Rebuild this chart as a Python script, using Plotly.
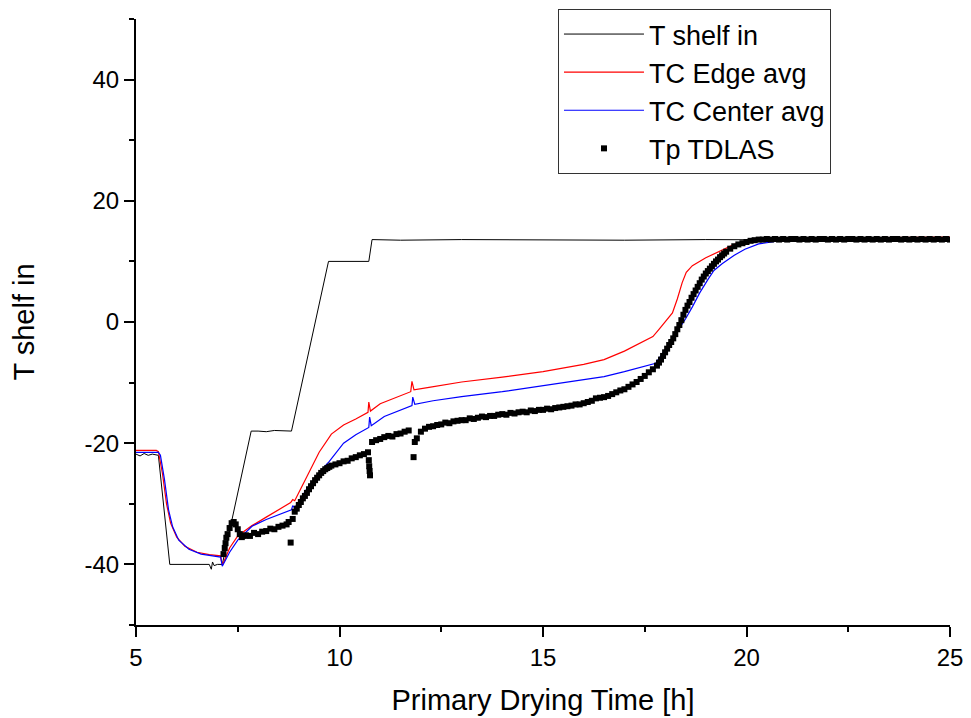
import plotly.graph_objects as go

# ---------------- data ----------------
shelf_x = [5.0, 5.1, 5.2, 5.3, 5.4, 5.5, 5.55, 5.83, 6.0, 6.3, 6.6, 6.8, 6.85, 6.88, 6.92, 7.0, 7.12,
           7.83, 8.0, 8.2, 8.4, 8.6, 8.82, 9.73, 9.9, 10.2, 10.5, 10.72, 10.8, 11.5, 13.0, 15.0, 17.0,
           19.0, 21.0, 23.0, 25.0]
shelf_y = [-21.8, -22.1, -21.7, -22.0, -21.8, -21.9, -22.0, -40.0, -40.0, -40.0, -40.0, -40.0, -40.8,
           -39.6, -40.2, -40.0, -40.0, -18.0, -18.0, -18.1, -17.9, -18.0, -18.0, 10.0, 10.0, 10.1, 10.0,
           10.0, 13.6, 13.5, 13.6, 13.5, 13.5, 13.6, 13.5, 13.5, 13.5]

edge_x = [5.0, 5.5, 5.55, 5.65, 5.75, 5.85, 6.0, 6.2, 6.5, 6.8, 7.08, 7.1, 7.13, 7.3, 7.5, 7.85, 8.2,
          8.5, 8.8, 8.85, 8.9, 9.2, 9.5, 9.8, 10.1, 10.4, 10.7, 10.72, 10.76, 11.0, 11.4, 11.75, 11.78,
          11.83, 12.2, 13.0, 14.0, 15.0, 16.0, 16.5, 17.0, 17.4, 17.7, 17.85, 18.0, 18.18, 18.3, 18.42,
          18.52, 18.67, 19.0, 19.4, 19.7, 19.9, 20.2, 21.0, 23.0, 25.0]
edge_y = [-21.2, -21.2, -21.4, -25.0, -30.0, -33.2, -35.5, -37.0, -38.0, -38.4, -38.6, -39.5, -40.0,
          -37.3, -35.3, -33.6, -32.2, -31.0, -29.8, -29.3, -29.5, -25.5, -21.5, -18.5, -17.0, -16.0,
          -14.9, -13.2, -14.7, -13.5, -12.4, -11.5, -9.8, -11.2, -10.8, -9.9, -9.1, -8.2, -7.0, -6.2,
          -4.8, -3.5, -2.4, -1.2, 0.0, 1.5, 3.8, 6.5, 8.2, 9.3, 10.6, 11.9, 12.8, 13.2, 13.6, 13.8,
          13.9, 14.0]

center_x = [5.0, 5.55, 5.6, 5.7, 5.8, 5.9, 6.05, 6.3, 6.6, 7.08, 7.12, 7.3, 7.5, 7.85, 8.2, 8.5, 8.82,
            8.85, 8.9, 9.2, 9.5, 9.75, 10.1, 10.4, 10.72, 10.74, 10.78, 11.1, 11.5, 11.78, 11.8, 11.85,
            12.3, 13.0, 14.0, 15.0, 16.0, 16.5, 17.0, 17.5, 17.77, 18.05, 18.3, 18.5, 18.67, 18.85,
            19.05, 19.2, 19.4, 19.7, 19.96, 20.3, 20.7, 21.2, 22.0, 25.0]
center_y = [-21.5, -21.5, -22.0, -26.0, -31.0, -33.8, -36.0, -37.5, -38.3, -38.8, -40.3, -38.0, -36.0,
            -33.7, -32.6, -31.8, -31.0, -30.3, -30.7, -27.5, -24.8, -23.0, -20.0, -18.6, -17.4, -15.7,
            -17.1, -15.6, -14.5, -13.8, -12.4, -13.6, -13.0, -12.3, -11.5, -10.5, -9.6, -9.0, -8.2,
            -7.3, -6.8, -4.1, -1.5, 0.5, 2.5, 4.8, 7.0, 8.5, 9.6, 11.0, 12.0, 12.9, 13.3, 13.6, 13.7,
            13.8]

tdlas_x = [7.15, 7.18, 7.2, 7.22, 7.25, 7.3, 7.35, 7.4, 7.45, 7.5, 7.55, 7.6, 7.65, 7.7, 7.8, 7.9,
           8.0, 8.1, 8.2, 8.3, 8.4, 8.5, 8.6, 8.7, 8.75, 8.8,
           8.85, 8.9, 8.95, 9.0, 9.05, 9.1, 9.15, 9.2, 9.25, 9.3, 9.35, 9.4, 9.45, 9.5, 9.55, 9.6, 9.65,
           9.7, 9.75, 9.8, 9.9, 10.0, 10.1, 10.2, 10.3, 10.4, 10.5, 10.6, 10.7, 10.72, 10.73, 10.74,
           10.75, 10.8, 10.9, 11.0, 11.1, 11.2, 11.3, 11.4, 11.5, 11.6, 11.7, 11.82, 11.85, 11.9, 12.0,
           12.1, 12.2, 12.3, 12.4, 12.5, 12.6, 12.7, 12.8, 12.9, 13.0, 13.1, 13.2, 13.3, 13.4, 13.5,
           13.6, 13.7, 13.8, 13.9, 14.0, 14.1, 14.2, 14.3, 14.4, 14.5, 14.6, 14.7, 14.8, 14.9, 15.0,
           15.1, 15.2, 15.3, 15.4, 15.5, 15.6, 15.7, 15.8, 15.9, 16.0, 16.1, 16.2, 16.3, 16.4, 16.5,
           16.6, 16.7, 16.8, 16.9, 17.0, 17.1, 17.2, 17.3, 17.4, 17.5, 17.6, 17.7,
           17.8, 17.85, 17.9, 17.95, 18.0, 18.05, 18.1, 18.15, 18.2, 18.25, 18.3, 18.35, 18.4, 18.45,
           18.5, 18.55, 18.6, 18.65, 18.7, 18.75, 18.8, 18.85, 18.9, 18.95, 19.0, 19.05, 19.1, 19.15,
           19.2, 19.25, 19.3, 19.35, 19.4, 19.45, 19.5, 19.6, 19.7, 19.8, 19.9, 20.0, 20.1, 20.2, 20.3,
           20.4, 20.5, 20.6, 20.7, 20.8, 20.9, 21.0, 21.1, 21.2, 21.3, 21.4, 21.5, 21.6, 21.7, 21.8,
           21.9, 22.0, 22.1, 22.2, 22.3, 22.4, 22.5, 22.6, 22.7, 22.8, 22.9, 23.0, 23.1, 23.2, 23.3,
           23.4, 23.5, 23.6, 23.7, 23.8, 23.9, 24.0, 24.1, 24.2, 24.3, 24.4, 24.5, 24.6, 24.7, 24.8,
           24.9, 25.0]
tdlas_y = [-38.3, -37.3, -36.5, -35.6, -35.0, -34.0, -33.2, -33.0, -33.4, -34.2, -35.0, -35.5, -35.3,
           -35.2, -35.3, -34.8, -35.0, -34.6, -34.5, -34.1, -34.2, -33.8, -33.6, -33.4, -33.0, -36.4,
           -32.5, -31.3, -30.8, -30.2, -29.7, -29.1, -28.7, -28.2, -27.6, -27.1, -26.6, -26.1, -25.7,
           -25.3, -24.9, -24.6, -24.3, -24.1, -23.9, -23.7, -23.5, -23.3, -23.0, -22.9, -22.5, -22.3,
           -22.0, -21.8, -21.5, -22.8, -23.8, -24.6, -25.3, -19.8, -19.5, -19.3, -19.0, -18.8, -18.9,
           -18.5, -18.4, -18.1, -17.9, -22.3, -19.8, -19.2, -18.1, -17.6, -17.3, -17.2, -17.0, -16.9,
           -16.6, -16.7, -16.4, -16.3, -16.2, -16.2, -15.9, -16.0, -15.8, -15.6, -15.7, -15.5, -15.5,
           -15.3, -15.2, -15.3, -15.0, -15.1, -14.9, -14.8, -14.9, -14.6, -14.7, -14.5, -14.5, -14.3,
           -14.4, -14.2, -14.1, -14.0, -13.9, -13.8, -13.6, -13.6, -13.4, -13.2, -13.0, -12.6, -12.5,
           -12.4, -12.2, -11.9, -11.6, -11.3, -11.1, -10.7, -10.3, -9.9, -9.4, -8.9, -8.3, -7.8,
           -7.2, -6.7, -6.2, -5.6, -5.0, -4.4, -3.8, -3.3, -2.7, -2.0, -1.2, -0.5, 0.3, 1.2,
           2.0, 2.7, 3.3, 4.0, 4.6, 5.2, 5.8, 6.4, 7.0, 7.5, 8.0, 8.4, 8.8, 9.2,
           9.6, 10.0, 10.3, 10.7, 11.0, 11.3, 11.6, 12.1, 12.5, 12.8, 13.0, 13.2, 13.4, 13.5, 13.6,
           13.6, 13.7, 13.6, 13.7, 13.6, 13.7, 13.6, 13.7, 13.7, 13.6, 13.7, 13.6, 13.7, 13.6, 13.7,
           13.7, 13.6, 13.7, 13.6, 13.7, 13.6, 13.7, 13.7, 13.6, 13.7, 13.6, 13.7, 13.6, 13.7, 13.6,
           13.7, 13.6, 13.7, 13.7, 13.6, 13.7, 13.6, 13.7, 13.6, 13.7, 13.6, 13.7, 13.6, 13.7, 13.6,
           13.7, 13.6]

x_ticks = [5, 10, 15, 20, 25]
x_ticktext = ["5", "10", "15", "20", "25"]
y_ticks = [-40, -20, 0, 20, 40]
y_ticktext = ["-40", "-20", "0", "20", "40"]

FONT = "Liberation Sans, Arial, sans-serif"

fig = go.Figure()
fig.add_trace(go.Scatter(x=shelf_x, y=shelf_y, mode="lines", name="T shelf in",
                         line=dict(color="black", width=1)))
fig.add_trace(go.Scatter(x=edge_x, y=edge_y, mode="lines", name="TC Edge avg",
                         line=dict(color="#ff0000", width=1.2)))
fig.add_trace(go.Scatter(x=center_x, y=center_y, mode="lines", name="TC Center avg",
                         line=dict(color="#0000ff", width=1.2)))
fig.add_trace(go.Scatter(x=tdlas_x, y=tdlas_y, mode="markers", name="Tp TDLAS",
                         marker=dict(symbol="square", size=6, color="black", line=dict(width=0))))

fig.update_layout(
    width=955, height=710,
    margin=dict(l=128, r=13, t=11, b=93, autoexpand=False),
    paper_bgcolor="white", plot_bgcolor="white",
    font=dict(family=FONT, color="black", size=24),
    showlegend=True,
    legend=dict(x=0.5184, y=1.0165, xanchor="left", yanchor="top",
                bgcolor="white", bordercolor="#333333", borderwidth=1,
                font=dict(size=27, family=FONT), itemwidth=80,
                tracegroupgap=0),
)
fig.update_xaxes(range=[5, 25], tickvals=x_ticks, ticktext=x_ticktext, showgrid=False, zeroline=False,
                 showline=True, linecolor="black", linewidth=2,
                 ticks="outside", ticklen=10, tickwidth=2, tickcolor="black",
                 tickfont=dict(size=24), ticklabeloverflow="allow",
                 minor=dict(dtick=2.5, ticks="outside", ticklen=5, tickwidth=2, tickcolor="black"),
                 title=dict(text="Primary Drying Time [h]", font=dict(size=29), standoff=20),
                 automargin=False)
fig.update_yaxes(range=[-50, 50], tickvals=y_ticks, ticktext=y_ticktext, showgrid=False, zeroline=False,
                 showline=True, linecolor="black", linewidth=2,
                 ticks="outside", ticklen=10, tickwidth=2, tickcolor="black",
                 tickfont=dict(size=24), ticklabeloverflow="allow",
                 minor=dict(dtick=10, ticks="outside", ticklen=5, tickwidth=2, tickcolor="black"),
                 title=dict(text="T shelf in", font=dict(size=29), standoff=41),
                 automargin=False)

fig.write_html("out.html")
